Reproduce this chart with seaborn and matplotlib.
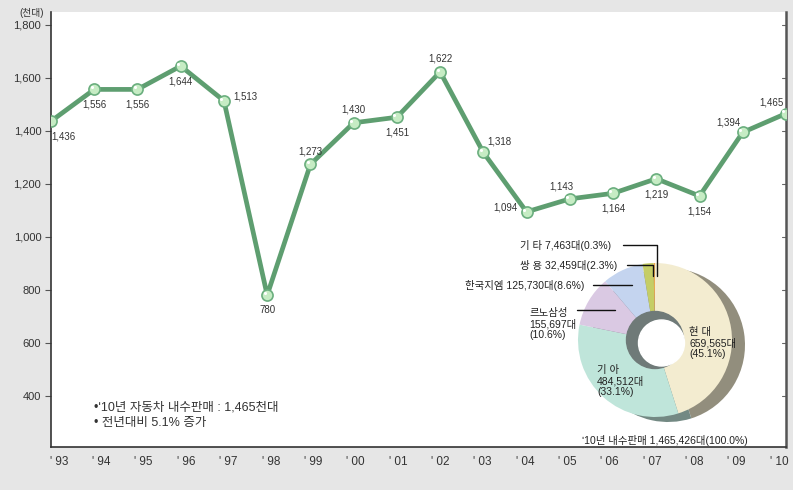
import matplotlib
matplotlib.use("Agg")
import matplotlib.pyplot as plt
from matplotlib.patches import Circle
import seaborn as sns
import pandas as pd
import numpy as np

# ---------------- data ----------------
years = ["93", "94", "95", "96", "97", "98", "99", "00", "01", "02",
         "03", "04", "05", "06", "07", "08", "09", "10"]
sales = [1436, 1556, 1556, 1644, 1513, 780, 1273, 1430, 1451, 1622,
         1318, 1094, 1143, 1164, 1219, 1154, 1394, 1465]
yticks = [400, 600, 800, 1000, 1200, 1400, 1600, 1800]

makers = ["현 대", "기 아", "르노삼성", "한국지엠", "쌍 용", "기 타"]
units = [659565, 484512, 155697, 125730, 32459, 7463]
shares = [45.1, 33.1, 10.6, 8.6, 2.3, 0.3]
pie_colors = ["#f3ecd0", "#bfe5da", "#dac9e3", "#c4d4ef", "#c5cd66", "#e8a850"]

# label placement (pixel offsets) per point
label_offsets = [(12, -15), (0, -15), (0, -15), (0, -15), (21, 4), (0, -15),
                 (0, 13), (0, 13), (0, -15), (0, 13), (16, 11), (-21, 4),
                 (-8, 12), (0, -15), (0, -16), (0, -16), (-14, 10), (-15, 11)]

# ---------------- style ----------------
sns.set_theme(style="white")
plt.rcParams["font.family"] = ["Liberation Sans", "Noto Sans CJK KR", "DejaVu Sans"]
BG = "#e6e6e6"
TXT = "#333333"

W, H = 793, 490
fig = plt.figure(figsize=(W / 100, H / 100), dpi=100, facecolor=BG)

def px_rect(x0, y0, x1, y1):
    return [x0 / W, 1 - y1 / H, (x1 - x0) / W, (y1 - y0) / H]

ax = fig.add_axes(px_rect(51, 12, 786, 447))
ax.set_facecolor("white")

df = pd.DataFrame({"idx": np.arange(len(years)), "sales": sales})
sns.lineplot(data=df, x="idx", y="sales", ax=ax, color="#5e9e70", lw=3.4,
             marker="o", markersize=8, markerfacecolor="#c6ecc4",
             markeredgecolor="#6aae7e", markeredgewidth=1.2, zorder=3)
ax.scatter(df["idx"] - 0.06, df["sales"] + 8, s=5, color="white", zorder=4, lw=0)

for i, v in enumerate(sales):
    dx, dy = label_offsets[i]
    ax.annotate(f"{v:,}", (i, v), xytext=(dx, dy), textcoords="offset pixels",
                ha="center", va="center", fontsize=7, color=TXT, zorder=5)

ax.set_xlim(0, len(years) - 1)
ax.set_ylim(207, 1848)
ax.set_xlabel("")
ax.set_ylabel("")
ax.set_yticks(yticks)
ax.set_yticklabels([f"{t:,}" for t in yticks], fontsize=8, color=TXT)
ax.set_xticks(np.arange(len(years)))
ax.set_xticklabels([])
n = len(years)
for i, y in enumerate(years):
    shift = 8 - 15 * i / (n - 1)
    ax.annotate(f"' {y}", (i, 0), xycoords=("data", "axes fraction"),
                xytext=(shift, -15), textcoords="offset pixels",
                ha="center", va="center", fontsize=8.5, color=TXT,
                annotation_clip=False)
ax.tick_params(axis="x", length=0)
ax.tick_params(axis="y", left=True, right=False, length=4, width=0.8,
               color="#555555", pad=3, direction="out")
for s in ["left", "bottom"]:
    ax.spines[s].set_color("#333333")
    ax.spines[s].set_linewidth(1.2)
ax.spines["top"].set_visible(False)
ax.spines["right"].set_color("#555555")
ax.spines["right"].set_linewidth(1.8)
# inward ticks on right side
for t in yticks:
    ax.plot([1, 0.994], [t, t], transform=ax.get_yaxis_transform(),
            color="#666666", lw=0.8, clip_on=False)

# ---------------- donut ----------------
dax = fig.add_axes(px_rect(555, 240, 755, 440))
dax.set_aspect("equal")
dax.axis("off")
shadow_cols = [tuple(np.array(matplotlib.colors.to_rgb(c)) * 0.6) for c in pie_colors]
dax.pie(shares, radius=0.77, startangle=90, counterclock=False, center=(0.13, -0.05),
        colors=shadow_cols, wedgeprops=dict(width=0.55, edgecolor="none"))
dax.pie(shares, radius=0.77, startangle=90, counterclock=False, center=(0, 0),
        colors=pie_colors, wedgeprops=dict(width=0.49, edgecolor="none"))
dax.add_patch(Circle((0, 0), 0.285, color="#6f7a78", zorder=5))
dax.add_patch(Circle((0.065, -0.03), 0.23, color="white", zorder=6))
dax.set_xlim(-1, 1)
dax.set_ylim(-1, 1)

# ---------------- overlay texts ----------------
ov = fig.add_axes([0, 0, 1, 1], facecolor="none")
ov.set_xlim(0, W)
ov.set_ylim(H, 0)
ov.axis("off")
ck = dict(fontsize=7.5, color="#222222", va="center", ha="left")

ov.text(32, 13, "(천대)", fontsize=7, color=TXT, ha="center", va="center")

ov.text(94, 407, "•ʹ10년 자동차 내수판매 : 1,465천대", fontsize=9, color=TXT, va="center")
ov.text(94, 423, "• 전년대비 5.1% 증가", fontsize=9, color=TXT, va="center")

ov.text(689, 343, f"{makers[0]}\n{units[0]:,}대\n({shares[0]}%)", linespacing=1.15, **ck)
ov.text(597, 381, f"{makers[1]}\n{units[1]:,}대\n({shares[1]}%)", linespacing=1.15, **ck)
ov.text(529, 324, f"{makers[2]}\n{units[2]:,}대\n({shares[2]}%)", linespacing=1.15, **ck)
ov.text(465, 285, f"{makers[3]} {units[3]:,}대({shares[3]}%)", **ck)
ov.text(520, 265, f"{makers[4]} {units[4]:,}대({shares[4]}%)", **ck)
ov.text(520, 245, f"{makers[5]} {units[5]:,}대({shares[5]}%)", **ck)
ov.text(582, 440, f"ʹ10년 내수판매 {sum(units):,}대(100.0%)", **ck)

lk = dict(color="#111111", lw=1)
ov.plot([577, 615], [310, 310], **lk)
ov.plot([593, 632], [285, 285], **lk)
ov.plot([627, 653, 653], [265, 265, 276], **lk)
ov.plot([623, 657, 657], [245, 245, 276], **lk)

fig.savefig("out.png", dpi=100, facecolor=BG)
